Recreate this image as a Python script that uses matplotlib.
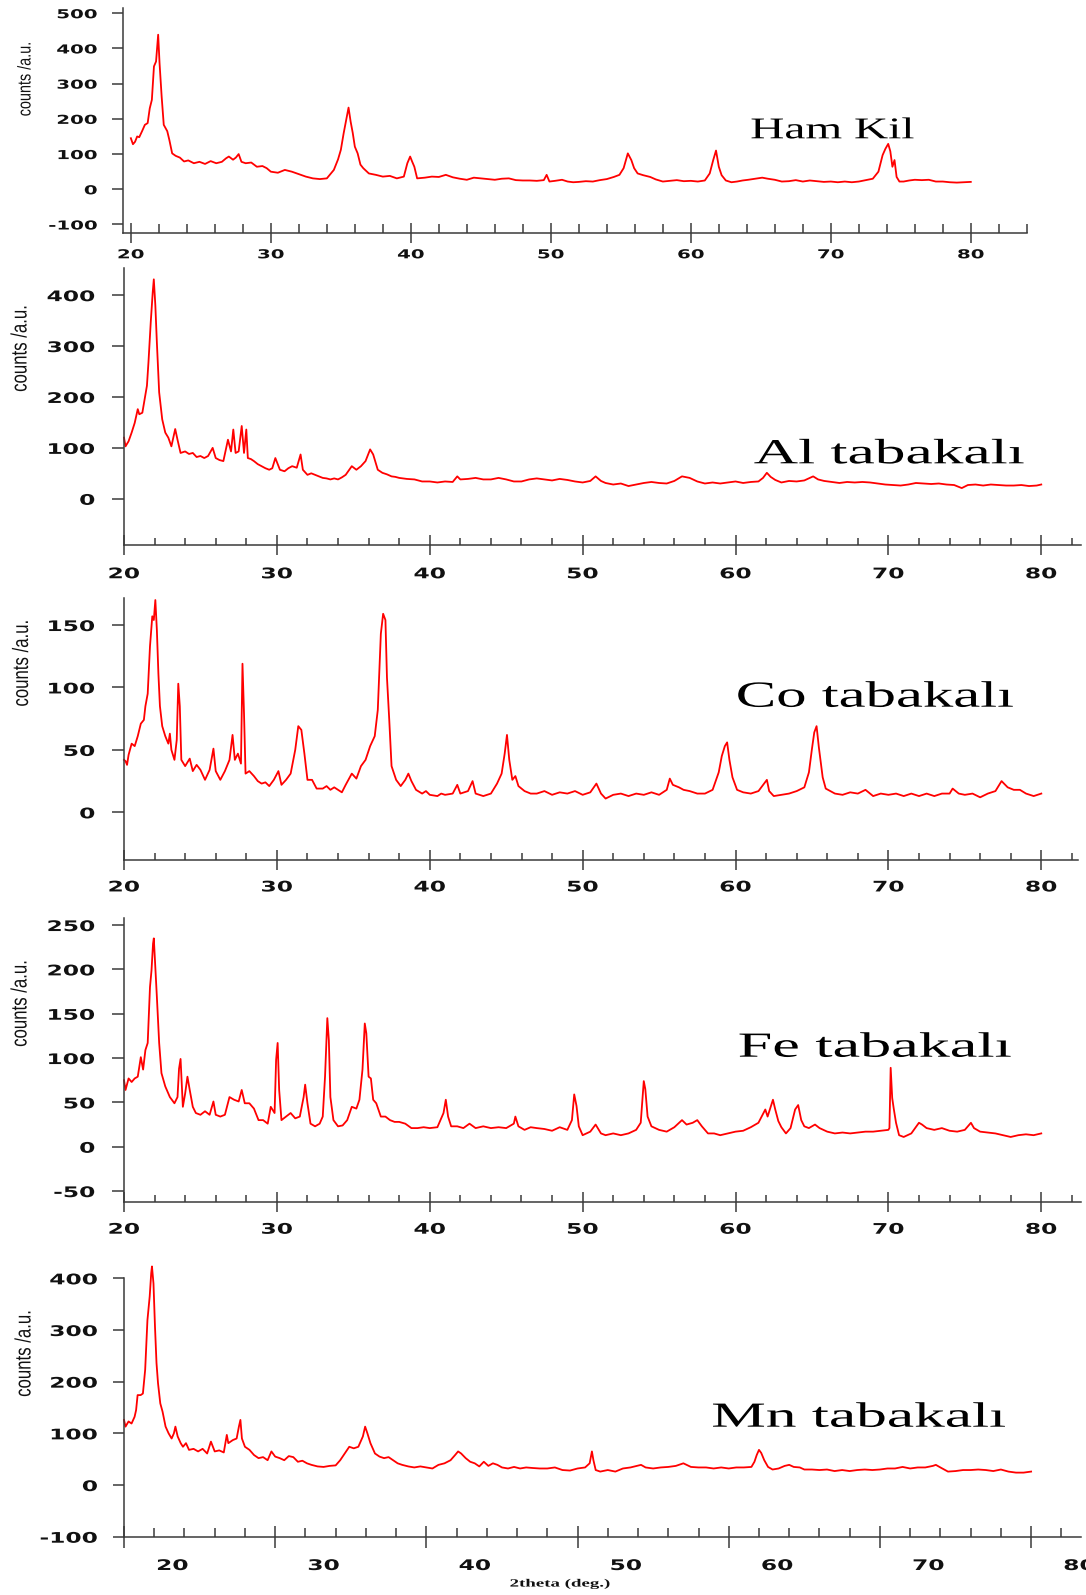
import numpy as np
import matplotlib
matplotlib.use("Agg")
import matplotlib.pyplot as plt
from matplotlib.patheffects import AbstractPathEffect
from matplotlib.transforms import Affine2D, ScaledTranslation

plt.rcParams["axes.unicode_minus"] = False

# --- data: (2theta, counts) ---
ham_kil = [(20.0,145),(20.15,128),(20.3,135),(20.45,150),(20.6,148),(20.8,165),(21.0,183),(21.2,188),
           (21.35,230),(21.5,254),(21.65,349),(21.8,363),(21.95,439),(22.05,358),(22.2,263),(22.35,183),
           (22.5,172),(22.6,165),(22.75,140),(22.95,102),(23.2,95),(23.5,90),(23.8,79),(24.1,82),(24.5,74),
           (24.9,78),(25.3,72),(25.7,80),(26.1,74),(26.5,78),(26.8,88),(27.0,93),(27.3,84),(27.5,90),
           (27.7,100),(27.9,78),(28.2,74),(28.6,76),(29.0,64),(29.4,66),(29.7,60),(30.0,50),(30.5,47),
           (31.0,55),(31.5,50),(32.0,43),(32.5,36),(33.0,31),(33.5,29),(34.0,31),(34.5,55),(34.8,85),
           (35.0,112),(35.2,159),(35.4,200),(35.55,232),(35.7,192),(35.85,160),(36.0,121),(36.2,102),
           (36.4,70),(36.6,60),(37.0,45),(37.5,41),(38.0,36),(38.5,38),(39.0,31),(39.5,36),(39.75,74),
           (39.95,93),(40.1,78),(40.25,64),(40.45,31),(41.0,33),(41.5,36),(42.0,35),(42.5,41),(43.0,34),
           (43.5,30),(44.0,27),(44.5,33),(45.0,31),(45.5,29),(46.0,27),(46.5,30),(47.0,31),(47.5,26),
           (48.0,25),(48.5,25),(49.0,24),(49.5,26),(49.7,41),(49.9,22),(50.3,24),(50.8,27),(51.2,22),
           (51.6,20),(52.0,21),(52.5,23),(53.0,22),(53.5,26),(54.0,29),(54.5,35),(54.9,41),(55.2,60),
           (55.5,102),(55.75,83),(55.95,60),(56.2,45),(56.6,40),(57.1,35),(57.5,28),(58.0,22),(58.5,24),
           (59.0,26),(59.5,23),(60.0,24),(60.5,22),(61.0,25),(61.35,45),(61.6,83),(61.8,110),(62.0,64),
           (62.2,40),(62.5,25),(62.9,20),(63.3,22),(63.7,25),(64.1,27),(64.6,30),(65.1,33),(65.5,30),
           (66.0,27),(66.5,22),(67.0,23),(67.5,26),(68.0,22),(68.5,25),(69.0,23),(69.5,21),(70.0,22),
           (70.5,20),(71.0,22),(71.5,20),(72.0,22),(72.5,26),(73.0,30),(73.4,50),(73.7,97),(73.9,115),
           (74.1,129),(74.25,108),(74.4,64),(74.55,83),(74.7,35),(74.9,22),(75.2,22),(75.6,25),(76.0,27),
           (76.5,26),(77.0,27),(77.5,22),(78.0,22),(78.5,20),(79.0,19),(79.5,20),(80.0,21)]

al_tabakali = [(20.0,120),(20.1,103),(20.3,113),(20.5,130),(20.7,149),(20.9,176),(21.0,166),(21.2,169),
               (21.35,195),(21.5,222),(21.6,268),(21.75,347),(21.88,406),(21.95,431),(22.05,380),(22.15,307),
               (22.3,209),(22.5,156),(22.7,130),(22.9,120),(23.1,103),(23.35,137),(23.5,116),(23.7,90),
               (24.0,93),(24.25,88),(24.5,90),(24.75,82),(25.0,84),(25.25,80),(25.5,84),(25.8,100),(26.0,80),
               (26.25,76),(26.5,74),(26.8,116),(27.0,93),(27.15,136),(27.3,90),(27.5,93),(27.7,143),(27.85,90),
               (28.0,136),(28.1,80),(28.3,78),(28.5,74),(28.75,68),(29.0,64),(29.25,60),(29.5,57),(29.7,60),
               (29.9,80),(30.2,57),(30.5,54),(30.75,60),(31.0,64),(31.3,61),(31.55,87),(31.7,57),(32.0,47),
               (32.25,50),(32.5,47),(32.75,44),(33.0,41),(33.25,40),(33.5,38),(33.75,40),(34.0,38),(34.25,42),
               (34.5,47),(34.9,64),(35.2,57),(35.5,64),(35.8,74),(36.1,97),(36.3,87),(36.6,57),(36.9,51),
               (37.2,48),(37.5,44),(37.75,43),(38.0,41),(38.5,39),(39.0,38),(39.5,34),(40.0,34),(40.5,32),
               (41.0,34),(41.5,33),(41.8,44),(42.0,38),(42.5,39),(43.0,41),(43.5,38),(44.0,38),(44.5,41),
               (45.0,38),(45.5,34),(46.0,34),(46.5,38),(47.0,40),(47.5,38),(48.0,36),(48.5,39),(49.0,37),
               (49.5,34),(50.0,32),(50.5,35),(50.85,44),(51.2,35),(51.5,31),(52.0,28),(52.5,30),(53.0,25),
               (53.5,28),(54.0,31),(54.5,33),(55.0,31),(55.5,30),(56.0,35),(56.5,44),(57.0,41),(57.5,34),
               (58.0,30),(58.5,32),(59.0,30),(59.5,32),(60.0,34),(60.5,31),(61.0,33),(61.5,34),(61.8,41),
               (62.05,51),(62.3,43),(62.6,37),(63.0,32),(63.5,35),(64.0,34),(64.5,36),(65.08,44),(65.4,38),
               (65.8,35),(66.3,33),(66.8,31),(67.3,33),(67.8,32),(68.3,33),(68.8,32),(69.3,30),(69.8,28),
               (70.3,27),(70.8,26),(71.3,28),(71.8,31),(72.3,30),(72.8,29),(73.3,30),(73.8,28),(74.3,27),
               (74.8,21),(75.2,27),(75.7,28),(76.2,26),(76.7,28),(77.2,27),(77.7,26),(78.2,26),(78.7,27),
               (79.2,25),(79.7,26),(80.0,28)]

co_tabakali = [(20.0,42),(20.1,41),(20.2,38),(20.3,46),(20.5,55),(20.7,53),(20.9,61),(21.1,71),(21.3,74),
               (21.4,85),(21.55,95),(21.7,133),(21.85,157),(21.95,154),(22.05,170),(22.15,146),(22.25,111),
               (22.35,85),(22.5,69),(22.7,61),(22.9,55),(23.0,63),(23.1,50),(23.3,42),(23.45,58),(23.55,103),
               (23.65,85),(23.75,42),(24.0,37),(24.3,43),(24.5,33),(24.75,38),(25.0,34),(25.3,26),(25.6,34),
               (25.85,51),(26.0,33),(26.3,26),(26.6,33),(26.9,42),(27.1,62),(27.25,42),(27.45,47),(27.65,39),
               (27.75,119),(27.85,79),(27.95,31),(28.2,33),(28.5,29),(28.75,25),(29.0,23),(29.25,24),(29.5,21),
               (29.8,26),(30.1,33),(30.3,22),(30.6,26),(30.9,31),(31.2,50),(31.4,69),(31.6,66),(31.8,47),
               (32.0,26),(32.3,26),(32.6,19),(33.0,19),(33.25,21),(33.5,18),(33.75,20),(34.0,18),(34.25,16),
               (34.5,22),(34.9,31),(35.2,27),(35.5,37),(35.8,42),(36.1,53),(36.4,61),(36.6,82),(36.8,143),
               (36.95,159),(37.1,154),(37.2,108),(37.35,74),(37.5,37),(37.8,26),(38.1,21),(38.4,26),(38.6,31),
               (38.8,25),(39.1,18),(39.5,15),(39.75,17),(40.0,14),(40.5,13),(40.75,15),(41.0,14),(41.5,15),
               (41.8,22),(42.0,15),(42.5,17),(42.8,25),(43.0,15),(43.5,13),(44.0,15),(44.4,23),(44.7,31),
               (44.9,47),(45.05,62),(45.2,42),(45.4,26),(45.6,29),(45.8,21),(46.2,17),(46.6,15),(47.0,15),
               (47.5,17),(48.0,14),(48.5,16),(49.0,15),(49.5,17),(50.0,14),(50.5,16),(50.9,23),(51.2,15),
               (51.5,11),(52.0,14),(52.5,15),(53.0,13),(53.5,15),(54.0,14),(54.5,16),(55.0,14),(55.5,18),
               (55.7,27),(55.9,22),(56.3,20),(56.6,18),(57.0,17),(57.5,15),(58.0,15),(58.5,18),(58.9,32),
               (59.1,45),(59.3,53),(59.45,56),(59.6,42),(59.8,28),(60.1,18),(60.5,16),(61.0,15),(61.5,17),
               (62.05,26),(62.2,17),(62.5,13),(63.0,14),(63.5,15),(64.0,17),(64.5,20),(64.8,32),(65.0,51),
               (65.15,64),(65.3,69),(65.45,52),(65.7,28),(65.9,19),(66.5,15),(67.0,14),(67.5,16),(68.0,15),
               (68.5,18),(69.0,13),(69.5,15),(70.0,14),(70.5,15),(71.0,13),(71.5,15),(72.0,13),(72.5,15),
               (73.0,13),(73.5,15),(74.0,15),(74.2,19),(74.6,15),(75.0,14),(75.5,15),(76.0,12),(76.5,15),
               (77.0,17),(77.4,25),(77.8,20),(78.2,18),(78.6,18),(79.0,15),(79.5,13),(80.0,15)]

fe_tabakali = [(20.0,75),(20.1,64),(20.3,77),(20.5,73),(20.7,77),(20.9,79),(21.0,90),(21.1,101),(21.25,87),
               (21.4,109),(21.55,117),(21.7,180),(21.8,199),(21.9,229),(21.95,235),(22.05,203),(22.15,169),
               (22.3,117),(22.45,83),(22.7,68),(23.0,56),(23.3,49),(23.5,56),(23.6,88),(23.7,99),(23.85,45),
               (24.0,60),(24.15,79),(24.3,64),(24.5,45),(24.7,38),(25.0,36),(25.3,40),(25.6,36),(25.85,51),
               (26.0,36),(26.3,34),(26.6,36),(26.9,56),(27.2,53),(27.5,51),(27.7,64),(27.9,49),(28.2,49),
               (28.5,43),(28.8,30),(29.1,30),(29.4,26),(29.6,45),(29.85,38),(29.95,98),(30.05,117),(30.15,64),
               (30.3,30),(30.6,34),(30.9,38),(31.2,32),(31.5,34),(31.75,56),(31.85,70),(32.0,49),(32.2,26),
               (32.5,23),(32.8,26),(33.0,34),(33.15,79),(33.3,145),(33.4,120),(33.5,56),(33.7,30),(34.0,23),
               (34.3,24),(34.6,30),(34.9,45),(35.2,43),(35.4,53),(35.6,87),(35.75,139),(35.85,128),(36.0,79),
               (36.15,77),(36.3,53),(36.5,49),(36.8,34),(37.1,34),(37.4,30),(37.7,28),(38.0,28),(38.4,26),
               (38.8,21),(39.2,21),(39.6,22),(40.0,21),(40.5,22),(40.9,38),(41.05,53),(41.2,34),(41.4,23),
               (41.8,23),(42.2,21),(42.6,26),(43.0,21),(43.5,23),(44.0,21),(44.5,22),(45.0,21),(45.5,26),
               (45.6,34),(45.8,23),(46.2,19),(46.6,22),(47.0,21),(47.5,20),(48.0,18),(48.5,22),(49.0,19),
               (49.3,30),(49.45,59),(49.6,46),(49.75,23),(50.0,13),(50.5,17),(50.85,25),(51.2,15),(51.5,13),
               (52.0,15),(52.5,13),(53.0,15),(53.5,19),(53.8,27),(54.0,74),(54.1,65),(54.25,34),(54.5,23),
               (55.0,19),(55.5,17),(56.0,22),(56.5,30),(56.8,25),(57.2,27),(57.5,30),(57.8,23),(58.2,15),
               (58.6,15),(59.0,13),(59.5,15),(60.0,17),(60.5,18),(61.0,22),(61.5,27),(61.95,42),(62.1,34),
               (62.45,53),(62.6,42),(62.8,29),(63.0,22),(63.3,15),(63.6,21),(63.9,42),(64.1,47),(64.3,30),
               (64.5,23),(64.8,21),(65.2,25),(65.5,21),(66.0,17),(66.5,15),(67.0,16),(67.5,15),(68.0,16),
               (68.5,17),(69.0,17),(69.5,18),(70.0,19),(70.07,21),(70.15,89),(70.25,55),(70.35,43),(70.5,27),
               (70.7,13),(71.0,11),(71.5,15),(72.0,27),(72.2,25),(72.5,21),(73.0,19),(73.5,21),(74.0,18),
               (74.5,17),(75.0,19),(75.4,27),(75.6,21),(76.0,17),(76.5,16),(77.0,15),(77.5,13),(78.0,11),
               (78.5,13),(79.0,14),(79.5,13),(80.0,15)]

mn_tabakali = [(20.0,126),(20.1,113),(20.3,123),(20.5,119),(20.7,132),(20.8,145),(20.9,174),(21.1,174),
               (21.25,177),(21.4,223),(21.55,319),(21.7,365),(21.8,410),(21.85,423),(21.95,390),(22.05,306),
               (22.15,236),(22.25,197),(22.4,158),(22.55,142),(22.75,113),(22.95,100),(23.15,90),(23.3,100),
               (23.4,113),(23.55,94),(23.75,81),(23.9,74),(24.1,81),(24.3,68),(24.6,70),(24.9,65),(25.2,70),
               (25.5,61),(25.75,84),(26.0,65),(26.3,67),(26.6,63),(26.8,97),(26.9,81),(27.2,87),(27.45,90),
               (27.6,113),(27.7,126),(27.8,90),(28.0,74),(28.3,68),(28.6,58),(28.9,52),(29.2,54),(29.5,48),
               (29.75,65),(30.0,55),(30.3,52),(30.6,48),(30.9,56),(31.2,54),(31.5,45),(31.8,47),(32.1,42),
               (32.4,39),(32.8,36),(33.2,35),(33.6,37),(34.0,38),(34.3,48),(34.6,61),(34.9,74),(35.2,71),
               (35.5,74),(35.8,94),(35.95,113),(36.1,100),(36.3,81),(36.6,61),(36.9,55),(37.2,52),(37.5,54),
               (37.8,48),(38.1,42),(38.4,39),(38.8,36),(39.2,34),(39.6,36),(40.0,34),(40.4,32),(40.8,39),
               (41.2,42),(41.6,48),(41.9,58),(42.1,65),(42.3,61),(42.6,52),(42.9,45),(43.2,42),(43.5,36),
               (43.8,45),(44.1,37),(44.4,42),(44.7,39),(45.0,34),(45.4,32),(45.8,35),(46.2,32),(46.6,34),
               (47.0,33),(47.5,32),(48.0,32),(48.5,34),(49.0,29),(49.5,28),(50.0,32),(50.5,34),(50.8,42),
               (50.95,65),(51.05,48),(51.2,29),(51.5,26),(52.0,29),(52.5,26),(53.0,32),(53.5,34),(54.2,39),
               (54.5,34),(55.0,32),(55.5,34),(56.0,35),(56.5,37),(57.0,42),(57.5,35),(58.0,34),(58.5,34),
               (59.0,32),(59.5,34),(60.0,32),(60.5,34),(61.0,34),(61.5,35),(61.7,45),(61.85,58),(62.0,68),
               (62.15,62),(62.35,48),(62.6,35),(62.9,30),(63.3,32),(63.7,37),(64.0,39),(64.3,35),(64.7,34),
               (65.0,30),(65.5,30),(66.0,29),(66.5,30),(67.0,27),(67.5,29),(68.0,27),(68.5,29),(69.0,30),
               (69.5,29),(70.0,30),(70.5,32),(71.0,32),(71.5,35),(72.0,32),(72.5,34),(73.0,34),(73.5,37),
               (73.7,39),(74.0,34),(74.5,26),(75.0,27),(75.5,29),(76.0,29),(76.5,30),(77.0,29),(77.5,27),
               (78.0,30),(78.5,26),(79.0,24),(79.5,24),(80.0,26)]

labels = ["Ham Kil", "Al tabakalı", "Co tabakalı", "Fe tabakalı", "Mn tabakalı"]
yticks = [[-100, 0, 100, 200, 300, 400, 500], [0, 100, 200, 300, 400], [0, 50, 100, 150],
          [-50, 0, 50, 100, 150, 200, 250], [-100, 0, 100, 200, 300, 400]]
xticks_major = [20, 30, 40, 50, 60, 70, 80]

W, H = 1086, 1595


class Stretch(AbstractPathEffect):
    """Scale text glyphs horizontally around an anchor (0 left, .5 centre, 1 right)."""
    def __init__(self, sx, anchor=0.5):
        super().__init__()
        self.sx = sx
        self.anchor = anchor

    def draw_path(self, renderer, gc, tpath, affine, rgbFace=None):
        ext = tpath.get_extents()
        cx = ext.x0 + self.anchor * ext.width
        pre = Affine2D().translate(-cx, 0).scale(self.sx, 1).translate(cx, 0)
        renderer.draw_path(gc, tpath, pre + affine, rgbFace)


fig = plt.figure(figsize=(W / 100, H / 100), dpi=100)

# layout in pixels: left, right, top, bottom of each frame, limits and text placement
panels = [
    dict(l=123.3, r=1026.8, t=8.3, b=233.3, xlim=(19.46, 84.0), ylim=(-125, 514), fs=8.9,
         ylab=(26, 79, 13.3, 0.78), title=(750.7, 138.3, 21.7, 1.57), maj=20, mnr=9, xpad=3.6,
         ypad=10.8, ylen=11),
    dict(l=124, r=1081, t=268.3, b=545, xlim=(20, 82.6), ylim=(-90.8, 452.7), fs=10.5,
         ylab=(21, 348.3, 16, 0.755), title=(754, 463.3, 25.4, 1.74), maj=20, mnr=7, xpad=8.1,
         ypad=12.2, ylen=12),
    dict(l=124, r=1078, t=598.3, b=860, xlim=(20, 82.4), ylim=(-38.2, 171.4), fs=10.5,
         ylab=(22.5, 663, 16, 0.755), title=(736.7, 706.7, 26.5, 1.65), maj=20, mnr=7, xpad=6.8,
         ypad=12.2, ylen=12),
    dict(l=124, r=1081, t=918.3, b=1201.7, xlim=(20, 82.6), ylim=(-62, 257.6), fs=10.5,
         ylab=(21, 1003.3, 16, 0.755), title=(738.5, 1056.7, 25.4, 1.76), maj=20, mnr=7, xpad=7.2,
         ypad=12.2, ylen=12),
    dict(l=124, r=1081, t=1278.3, b=1536.7, xlim=(20, 83.3), ylim=(-100, 400), fs=10.5,
         ylab=(25, 1353.3, 16, 0.755), title=(712, 1426.7, 25.4, 1.74), maj=22, mnr=9, xpad=7.4,
         ypad=11, ylen=11),
]
series = [ham_kil, al_tabakali, co_tabakali, fe_tabakali, mn_tabakali]

spine_col = "#3a3a3a"
txt_col = "#111111"
px = 0.72  # points per pixel at dpi 100

for i, (p, data) in enumerate(zip(panels, series)):
    ax = fig.add_axes([p["l"] / W, 1 - p["b"] / H, (p["r"] - p["l"]) / W, (p["b"] - p["t"]) / H])
    x, y = zip(*data)
    ax.plot(x, y, color="#ff0000", lw=1.3, clip_on=False)
    for s in ["top", "right"]:
        ax.spines[s].set_visible(False)
    for s in ["left", "bottom"]:
        ax.spines[s].set_color(spine_col)
        ax.spines[s].set_linewidth(1.1)
    ax.set_xticks(xticks_major)
    ax.set_xticks(np.arange(20, 85, 2), minor=True)
    ax.set_yticks(yticks[i])
    # limits after the ticks, so the tick lists do not widen the view
    ax.set_xlim(*p["xlim"])
    ax.set_ylim(*p["ylim"])
    ax.tick_params(axis="x", which="major", direction="inout", length=p["maj"] * px, width=1.1,
                   color=spine_col, pad=p["xpad"], labelsize=p["fs"], labelcolor=txt_col)
    ax.tick_params(axis="x", which="minor", direction="in", length=p["mnr"] * px, width=1.1,
                   color=spine_col)
    ax.tick_params(axis="y", which="major", direction="out", length=p["ylen"] * px, width=1.1,
                   color=spine_col, pad=p["ypad"], labelsize=p["fs"], labelcolor=txt_col)
    for lab in ax.get_xticklabels():
        lab.set_fontweight("bold")
        lab.set_path_effects([Stretch(1.6, 0.5)])
    for lab in ax.get_yticklabels():
        lab.set_fontweight("bold")
        lab.set_path_effects([Stretch(1.6, 1.0)])
    if i == 4:
        # tick labels of the last panel sit shifted right of their ticks
        for lab in ax.get_xticklabels():
            lab.set_transform(lab.get_transform() + ScaledTranslation(0.485, 0, fig.dpi_scale_trans))

    yx, yy, yfs, ysx = p["ylab"]
    fig.text(yx / W, 1 - yy / H, "counts /a.u.", rotation=90, ha="center", va="center",
             fontsize=yfs, family="Liberation Sans", color=txt_col,
             path_effects=[Stretch(ysx, 0.5)])
    tx, ty, tfs, tsx = p["title"]
    fig.text(tx / W, 1 - ty / H, labels[i], ha="left", va="baseline", fontsize=tfs,
             family="Liberation Serif", color="#000000", path_effects=[Stretch(tsx, 0.0)])

fig.text(560 / W, 1 - 1584 / H, "2theta (deg.)", ha="center", va="center", fontsize=8,
         family="Liberation Serif", weight="bold", color=txt_col, path_effects=[Stretch(1.7, 0.5)])

fig.savefig("out.png", dpi=100)
